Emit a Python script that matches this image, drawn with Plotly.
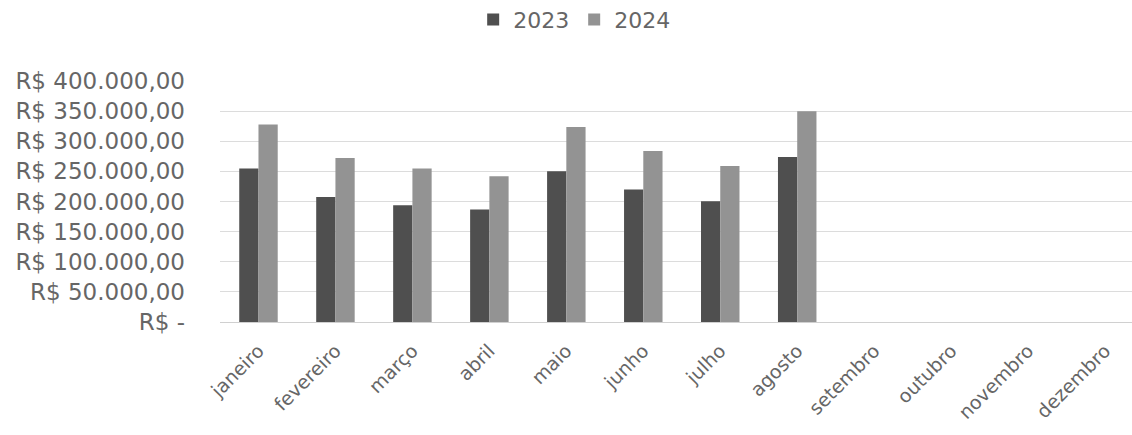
import plotly.graph_objects as go

meses = ["janeiro", "fevereiro", "março", "abril", "maio", "junho", "julho",
         "agosto", "setembro", "outubro", "novembro", "dezembro"]
vendas_2023 = [254600, 207500, 193800, 186700, 250100, 219800, 200400, 273800,
               None, None, None, None]
vendas_2024 = [327500, 272100, 254600, 241800, 323500, 283700, 258900, 349500,
               None, None, None, None]
tick_vals = [0, 50000, 100000, 150000, 200000, 250000, 300000, 350000, 400000]
tick_text = ["R$ -", "R$ 50.000,00", "R$ 100.000,00", "R$ 150.000,00",
             "R$ 200.000,00", "R$ 250.000,00", "R$ 300.000,00",
             "R$ 350.000,00", "R$ 400.000,00"]

FONT = "DejaVu Sans"
TXT = "#666666"

fig = go.Figure()
fig.add_trace(go.Bar(name="2023", x=meses, y=vendas_2023,
                     marker=dict(color="#4f4f4f", line=dict(width=0))))
fig.add_trace(go.Bar(name="2024", x=meses, y=vendas_2024,
                     marker=dict(color="#939393", line=dict(width=0))))

fig.update_layout(
    width=1132, height=435,
    paper_bgcolor="white", plot_bgcolor="white",
    margin=dict(l=220, r=0, t=80, b=113, autoexpand=False),
    barmode="group", bargap=0.5, bargroupgap=0,
    font=dict(family=FONT, color=TXT, size=20),
    showlegend=True,
    legend=dict(orientation="h", xref="container", yref="container",
                x=0.418, y=0.955, xanchor="left", yanchor="middle",
                font=dict(size=22, color=TXT), itemwidth=30,
                traceorder="normal"),
)
fig.update_xaxes(type="category", range=[-0.5, 11.35], tickangle=-45,
                 showgrid=False, showline=False, ticks="", automargin=False,
                 ticklabelstandoff=13,
                 tickfont=dict(size=19, color=TXT))
fig.update_yaxes(range=[0, 401500], tickvals=tick_vals, ticktext=tick_text,
                 showgrid=True, gridcolor="#dcdcdc", gridwidth=1,
                 zeroline=True, zerolinecolor="#d0d0d0", zerolinewidth=1,
                 showline=False, ticks="", ticklabelstandoff=34, automargin=False,
                 tickfont=dict(size=23, color=TXT))

fig.write_html("out.html",
               config={"displayModeBar": False},
               post_script="document.body.style.margin='0';"
                           "document.body.style.overflow='hidden';")
